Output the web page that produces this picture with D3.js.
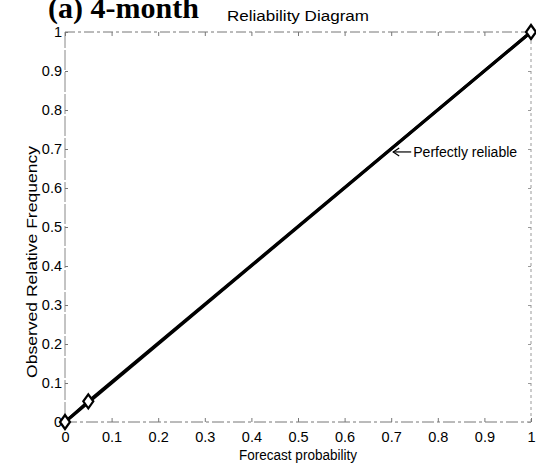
<!DOCTYPE html>
<html><head><meta charset="utf-8">
<script src="https://cdn.jsdelivr.net/npm/d3@7"></script>
<style>body{margin:0;background:#fff}svg{display:block}</style>
</head><body>
<script>
const xTicks = [0,0.1,0.2,0.3,0.4,0.5,0.6,0.7,0.8,0.9,1];
const yTicks = [0,0.1,0.2,0.3,0.4,0.5,0.6,0.7,0.8,0.9,1];
const perfectX = [0,1];
const perfectY = [0,1];
const forecastProb = [0,0.05,1];
const observedFreq = [0,0.053,1];
const titleText = "Reliability Diagram";
const panelText = "(a) 4-month";
const xLabel = "Forecast probability";
const yLabel = "Observed Relative Frequency";
const annot = {x:0.7, y:0.695, text:"Perfectly reliable"};

const SANS="Liberation Sans, Arial, sans-serif";
const W=536,H=466;
const m={l:65,r:5,t:32,b:44};
const svg=d3.select("body").append("svg").attr("width",W).attr("height",H).attr("font-family",SANS);
const x=d3.scaleLinear().domain([0,1]).range([m.l,W-m.r]);
const y=d3.scaleLinear().domain([0,1]).range([H-m.b,m.t]);
const x0=x(0),x1=x(1),y0=y(0),y1=y(1);

// frame
const g=svg.append("g");
g.append("line").attr("x1",x0).attr("x2",x1).attr("y1",y1).attr("y2",y1).attr("stroke","#777").attr("stroke-dasharray","10,3,3,3");
g.append("line").attr("x1",x0).attr("x2",x1).attr("y1",y0).attr("y2",y0).attr("stroke","#777").attr("stroke-dasharray","12,3,3,3");
g.append("line").attr("x1",x0).attr("x2",x0).attr("y1",y0).attr("y2",y1).attr("stroke","#888").attr("stroke-dasharray","20,2");
g.append("line").attr("x1",x1).attr("x2",x1).attr("y1",y0).attr("y2",y1).attr("stroke","#999").attr("stroke-dasharray","3,3");

// axes
const fmt=d=>d3.format("")(d);
const xAxis=d3.axisBottom(x).tickValues(xTicks).tickSizeInner(-4).tickSizeOuter(0).tickPadding(10).tickFormat(fmt);
const gx=svg.append("g").attr("transform",`translate(0,${y0})`).call(xAxis);
gx.select(".domain").remove();
gx.selectAll(".tick line").attr("stroke","#777");
gx.selectAll("text").attr("font-size",14.5).attr("fill","#000").attr("font-family",SANS);
const xAxisTop=d3.axisTop(x).tickValues(xTicks).tickSizeInner(-4).tickSizeOuter(0).tickFormat("");
const gxt=svg.append("g").attr("transform",`translate(0,${y1})`).call(xAxisTop);
gxt.select(".domain").remove();
gxt.selectAll(".tick line").attr("stroke","#777");

const yAxis=d3.axisLeft(y).tickValues(yTicks).tickSizeInner(-3).tickSizeOuter(0).tickPadding(3).tickFormat(fmt);
const gy=svg.append("g").attr("transform",`translate(${x0},0)`).call(yAxis);
gy.select(".domain").remove();
gy.selectAll(".tick line").attr("stroke","#777");
gy.selectAll("text").attr("font-size",14.5).attr("fill","#000").attr("font-family",SANS);
const yAxisR=d3.axisRight(y).tickValues(yTicks).tickSizeInner(-3).tickSizeOuter(0).tickFormat("");
const gyr=svg.append("g").attr("transform",`translate(${x1},0)`).call(yAxisR);
gyr.select(".domain").remove();
gyr.selectAll(".tick line").attr("stroke","#999");

// perfect line
const line=d3.line().x(d=>x(d[0])).y(d=>y(d[1]));
svg.append("path").datum(d3.zip(perfectX,perfectY)).attr("d",line).attr("fill","none").attr("stroke","#000").attr("stroke-width",3);
// data line
svg.append("path").datum(d3.zip(forecastProb,observedFreq)).attr("d",line).attr("fill","none").attr("stroke","#000").attr("stroke-width",3);
// diamonds
svg.selectAll(".dm").data(d3.zip(forecastProb,observedFreq)).join("path")
 .attr("d","M0,-7L5,0L0,7L-5,0Z")
 .attr("transform",d=>`translate(${x(d[0])},${y(d[1])})`)
 .attr("fill","#fff").attr("stroke","#000").attr("stroke-width",2.2);

// annotation
const ax=x(annot.x)+2, ay=y(annot.y)+1;
svg.append("line").attr("x1",ax).attr("x2",ax+18).attr("y1",ay).attr("y2",ay).attr("stroke","#000").attr("stroke-width",1.2);
svg.append("path").attr("d",`M${ax+6},${ay-4}L${ax},${ay}L${ax+6},${ay+4}`).attr("fill","none").attr("stroke","#000").attr("stroke-width",1.2);
svg.append("text").attr("x",ax+20).attr("y",ay+5).attr("font-size",14).attr("textLength",104).attr("lengthAdjust","spacingAndGlyphs").text(annot.text);

// titles
svg.append("text").attr("x",(x0+x1)/2).attr("y",21).attr("text-anchor","middle").attr("font-size",15.5).attr("textLength",142).attr("lengthAdjust","spacingAndGlyphs").text(titleText);
svg.append("text").attr("x",48).attr("y",18).attr("font-size",30).attr("font-weight","bold").attr("font-family","Liberation Serif, Times New Roman, serif").text(panelText);
svg.append("text").attr("x",(x0+x1)/2).attr("y",460).attr("text-anchor","middle").attr("font-size",14).attr("textLength",118).attr("lengthAdjust","spacingAndGlyphs").text(xLabel);
svg.append("text").attr("transform",`translate(37,262) rotate(-90)`).attr("text-anchor","middle").attr("font-size",15).attr("textLength",232).attr("lengthAdjust","spacingAndGlyphs").text(yLabel);
</script>
</body></html>
